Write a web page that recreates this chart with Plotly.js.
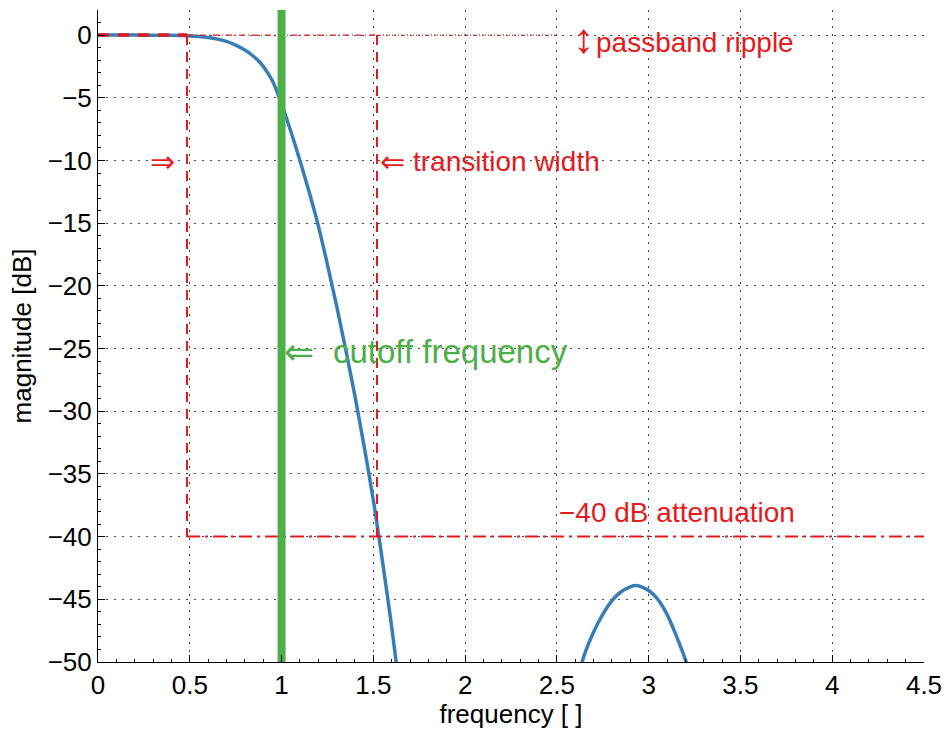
<!DOCTYPE html>
<html>
<head>
<meta charset="utf-8">
<script src="https://cdn.plot.ly/plotly-3.0.1.min.js"></script>
<style>
  html, body { margin: 0; padding: 0; background: #fff; }
  #chart { width: 946px; height: 729px; }
</style>
</head>
<body>
<div id="chart"></div>
<script>
// Low-pass filter magnitude response (dB) against normalised frequency.
const freq = [0, 0.1, 0.2, 0.3, 0.4, 0.45, 0.5, 0.55, 0.6, 0.65, 0.7, 0.75, 0.8, 0.825, 0.85, 0.875,
  0.9, 0.925, 0.95, 0.975, 1.0, 1.025, 1.05, 1.075, 1.1, 1.15, 1.2, 1.25, 1.3, 1.35, 1.4, 1.45, 1.5,
  1.53, 1.56, 1.6, 1.625, 1.65, null,
  2.62, 2.65, 2.7, 2.75, 2.8, 2.85, 2.9, 2.93, 2.96, 3.0, 3.05, 3.1, 3.15, 3.2, 3.22];
const magnitudeDb = [0, 0, 0, -0.01, -0.02, -0.04, -0.07, -0.12, -0.2, -0.32, -0.5, -0.8, -1.2, -1.44, -1.73, -2.07,
  -2.49, -3.01, -3.65, -4.5, -5.5, -6.55, -7.65, -8.8, -10.0, -12.5, -15.2, -18.3, -21.6, -25.1, -28.8, -32.8, -37.1,
  -40.0, -43.0, -47.2, -50.1, -53.2, null,
  -51.0, -49.4, -47.6, -46.2, -45.1, -44.4, -44.0, -43.9, -44.0, -44.3, -45.0, -46.2, -47.9, -49.8, -50.7];

// Filter specification
const cutoffFreq = 1.0;
const passbandEdge = 0.485;
const stopbandEdge = 1.52;
const rippleDb = 0;
const rippleMarkEnd = 2.5;
const attenuationDb = -40;

// Axes
const freqRange = [0, 4.5];
const dbRange = [-50, 2];
const freqTicks = [0, 0.5, 1, 1.5, 2, 2.5, 3, 3.5, 4, 4.5];
const freqTickText = ['0', '0.5', '1', '1.5', '2', '2.5', '3', '3.5', '4', '4.5'];
const dbTicks = [0, -5, -10, -15, -20, -25, -30, -35, -40, -45, -50];
const dbTickText = ['0', '\u22125', '\u221210', '\u221215', '\u221220', '\u221225', '\u221230', '\u221235', '\u221240', '\u221245', '\u221250'];

const BLUE = '#377eb8', RED = '#e41a1c', GREEN = '#4daf4a';
const FONT = 'Liberation Sans, Arial, Helvetica, DejaVu Sans, sans-serif';
const ARROW_FONT = 'DejaVu Sans, sans-serif';

const traces = [
  { x: freq, y: magnitudeDb, mode: 'lines', line: { color: BLUE, width: 3.5, shape: 'spline', smoothing: 1 },
    connectgaps: false, hoverinfo: 'skip' },
  { x: [freqRange[0], passbandEdge], y: [rippleDb, rippleDb], mode: 'lines',
    line: { color: RED, width: 3.5, dash: '11px,9px' }, hoverinfo: 'skip' },
  { x: [passbandEdge, stopbandEdge], y: [rippleDb, rippleDb], mode: 'lines',
    line: { color: RED, width: 1.2, dash: '6px,3px,1px,3px' }, hoverinfo: 'skip' },
  { x: [stopbandEdge, rippleMarkEnd], y: [rippleDb, rippleDb], mode: 'lines',
    line: { color: RED, width: 1.2, dash: '1px,2px' }, hoverinfo: 'skip' },
  { x: [passbandEdge, passbandEdge, null, stopbandEdge, stopbandEdge],
    y: [rippleDb, attenuationDb, null, rippleDb, attenuationDb], mode: 'lines',
    line: { color: RED, width: 2, dash: '10px,7px' }, hoverinfo: 'skip' },
  { x: [passbandEdge, freqRange[1]], y: [attenuationDb, attenuationDb], mode: 'lines',
    line: { color: RED, width: 2, dash: '13px,5px,3px,5px' }, hoverinfo: 'skip' },
  { x: [cutoffFreq, cutoffFreq], y: [dbRange[1], dbRange[0]], mode: 'lines',
    line: { color: GREEN, width: 8 }, hoverinfo: 'skip' }
];

function note(text, x, y, color, size, family) {
  return { text: text, x: x, y: y, xref: 'x', yref: 'y', xanchor: 'left', yanchor: 'middle',
    showarrow: false, font: { family: family || FONT, size: size, color: color } };
}

const layout = {
  width: 946, height: 729,
  margin: { l: 98, r: 22, t: 10, b: 67 },
  paper_bgcolor: '#fff', plot_bgcolor: '#fff',
  showlegend: false,
  font: { family: FONT, size: 26, color: '#000' },
  xaxis: {
    range: freqRange, tickvals: freqTicks, ticktext: freqTickText,
    ticks: 'inside', ticklen: 7, tickcolor: '#000', tickwidth: 1,
    showline: true, linecolor: '#000', linewidth: 1, zeroline: false,
    showgrid: true, gridcolor: '#444', gridwidth: 1, griddash: '1.5px,6.5px',
    minor: { ticks: 'inside', ticklen: 3, dtick: 0.1, tick0: 0, tickcolor: '#000', showgrid: false },
    tickfont: { family: FONT, size: 26, color: '#000' },
    title: { text: 'frequency [ ]', font: { family: FONT, size: 26, color: '#000' }, standoff: 3 }
  },
  yaxis: {
    range: dbRange, tickvals: dbTicks, ticktext: dbTickText,
    ticks: 'inside', ticklen: 7, tickcolor: '#000', tickwidth: 1,
    showline: true, linecolor: '#000', linewidth: 1, zeroline: false,
    showgrid: true, gridcolor: '#444', gridwidth: 1, griddash: '1.5px,6.5px',
    minor: { ticks: 'inside', ticklen: 3, dtick: 1, tick0: 0, tickcolor: '#000', showgrid: false },
    tickfont: { family: FONT, size: 26, color: '#000' },
    title: { text: 'magnitude [dB]', font: { family: FONT, size: 26, color: '#000' }, standoff: 8 }
  },
  annotations: [
    note('\u2195', 2.575, -0.3, RED, 42, FONT),
    note('passband ripple', 2.703, -0.56, RED, 28),
    note('\u21D2', 0.272, -10.1, RED, 30, ARROW_FONT),
    note('\u21D0', 1.526, -10.1, RED, 30, ARROW_FONT),
    note('transition width', 1.706, -10.1, RED, 28),
    note('\u21D0', 1.003, -25.2, GREEN, 36, ARROW_FONT),
    note('cutoff frequency', 1.27, -25.2, GREEN, 33),
    note('\u221240 dB attenuation', 2.5, -38.1, RED, 28)
  ]
};

Plotly.newPlot('chart', traces, layout, { displayModeBar: false, staticPlot: true });
</script>
</body>
</html>
